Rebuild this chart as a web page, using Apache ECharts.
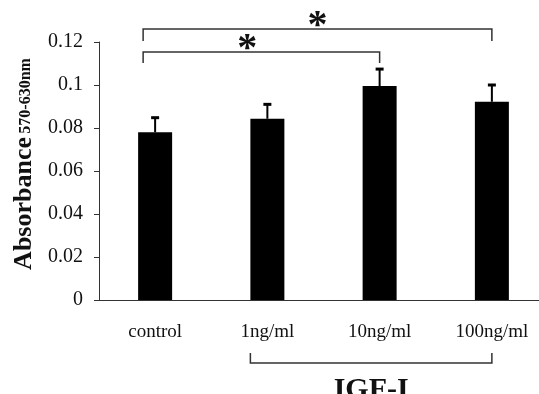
<!DOCTYPE html>
<html>
<head>
<meta charset="utf-8">
<script src="https://cdn.jsdelivr.net/npm/echarts@6/dist/echarts.min.js"></script>
<style>
  html, body { margin: 0; padding: 0; background: #fff; }
  #chart { width: 539px; height: 394px; }
</style>
</head>
<body>
<div id="chart"></div>
<script>
// data
const categories = ['control', '1ng/ml', '10ng/ml', '100ng/ml'];
const means = [0.078, 0.0843, 0.0995, 0.0922];
const errTops = [0.0848, 0.091, 0.1074, 0.1];
const yTicks = [0, 0.02, 0.04, 0.06, 0.08, 0.1, 0.12];
// significance brackets: [fromIdx, toIdx, lineY, legY, starPos]
const sigBrackets = [
    [0, 2, 0.1153, 0.1102, 0.44],
    [0, 3, 0.126, 0.1205, 0.5]
];
// group bracket under the labels: [fromIdx, toIdx, lineY, legY]
const groupBrackets = [[1, 3, -0.0293, -0.0247]];
const groupLabel = 'IGF-I';

const FONT = '"Liberation Serif", "Times New Roman", serif';
const chart = echarts.init(document.getElementById('chart'));

const errData = means.map((m, i) => [i, m, errTops[i]]);

const option = {
    backgroundColor: '#fff',
    animation: false,
    grid: { left: 99, top: 42, height: 258, width: 449, containLabel: false, outerBoundsMode: 'none' },
    xAxis: {
        type: 'category',
        data: categories,
        axisLine: { lineStyle: { color: '#333', width: 1 } },
        axisTick: { inside: true, length: 5, lineStyle: { color: '#333' } },
        axisLabel: { color: '#111', fontFamily: FONT, fontSize: 19, margin: 23 }
    },
    yAxis: {
        type: 'value',
        min: yTicks[0],
        max: yTicks[yTicks.length - 1],
        interval: yTicks[1] - yTicks[0],
        splitLine: { show: false },
        axisLine: { show: true, lineStyle: { color: '#333', width: 1 } },
        axisTick: { show: true, length: 5, lineStyle: { color: '#333' } },
        axisLabel: { color: '#111', fontFamily: FONT, fontSize: 20, margin: 16 },
        name: '{a|Absorbance} {b|570-630nm}',
        nameLocation: 'middle',
        nameRotate: 90,
        nameGap: 62,
        nameTextStyle: {
            padding: [0, 0, 0, 14],
            rich: {
                a: { fontFamily: FONT, fontWeight: 'bold', fontSize: 26, color: '#111' },
                b: { fontFamily: FONT, fontWeight: 'bold', fontSize: 16, color: '#111', verticalAlign: 'bottom', padding: [0, 0, 3, 0] }
            }
        }
    },
    series: [
        {
            type: 'bar',
            data: means,
            barWidth: 34,
            itemStyle: { color: '#000' }
        },
        {
            // upper error bars
            type: 'custom',
            data: errData,
            z: 3,
            renderItem: (params, api) => {
                const top = api.coord([api.value(0), api.value(2)]);
                const base = api.coord([api.value(0), api.value(1)]);
                return {
                    type: 'group',
                    children: [
                        { type: 'line', shape: { x1: base[0], y1: base[1], x2: top[0], y2: top[1] }, style: { stroke: '#000', lineWidth: 2 } },
                        { type: 'line', shape: { x1: top[0] - 4, y1: top[1], x2: top[0] + 4, y2: top[1] }, style: { stroke: '#000', lineWidth: 3 } }
                    ]
                };
            }
        },
        {
            // significance brackets with stars
            type: 'custom',
            data: sigBrackets,
            clip: false,
            renderItem: (params, api) => {
                const a = api.coord([api.value(0), api.value(2)]);
                const b = api.coord([api.value(1), api.value(2)]);
                const leg = api.coord([api.value(0), api.value(3)]);
                const x1 = a[0] - 12, x2 = b[0];
                const sx = x1 + (x2 - x1) * api.value(4);
                const style = { stroke: '#333', lineWidth: 1.5, fill: null };
                return {
                    type: 'group',
                    children: [
                        { type: 'polyline', shape: { points: [[x1, leg[1]], [x1, a[1]], [x2, a[1]], [x2, leg[1]]] }, style },
                        { type: 'text', x: sx, y: a[1] + 18, style: { text: '*', fontFamily: FONT, fontWeight: 'bold', fontSize: 40, fill: '#111', align: 'center', verticalAlign: 'bottom' } }
                    ]
                };
            }
        },
        {
            // treatment group bracket below the axis
            type: 'custom',
            data: groupBrackets,
            clip: false,
            renderItem: (params, api) => {
                const a = api.coord([api.value(0), api.value(2)]);
                const b = api.coord([api.value(1), api.value(2)]);
                const leg = api.coord([api.value(0), api.value(3)]);
                const x1 = a[0] - 17, x2 = b[0];
                return {
                    type: 'group',
                    children: [
                        { type: 'polyline', shape: { points: [[x1, leg[1]], [x1, a[1]], [x2, a[1]], [x2, leg[1]]] }, style: { stroke: '#333', lineWidth: 1.5, fill: null } },
                        { type: 'text', x: (x1 + x2) / 2, y: a[1] + 12, style: { text: groupLabel, fontFamily: FONT, fontWeight: 'bold', fontSize: 30, fill: '#111', align: 'center', verticalAlign: 'top' } }
                    ]
                };
            }
        }
    ]
};

chart.setOption(option);
</script>
</body>
</html>
